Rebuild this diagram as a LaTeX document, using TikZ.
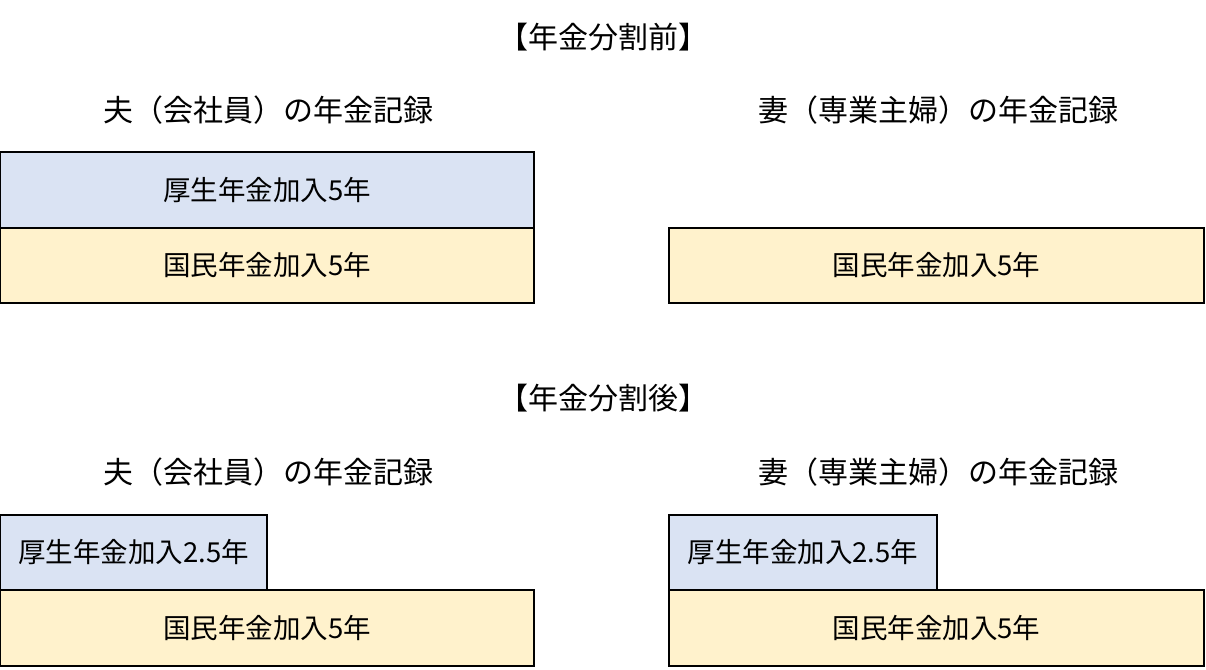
\documentclass[tikz,border=0pt]{standalone}
\usepackage{fontspec}
\setmainfont{Noto Sans CJK JP}
\begin{document}
\begin{tikzpicture}[x=1pt,y=-1pt,
  box/.style={draw=black,line width=2pt,minimum height=75.5pt,inner sep=0pt,font=\fontsize{27.5}{31}\selectfont},
  kosei/.style={box,fill=blueF},
  kokumin/.style={box,fill=yellowF},
  ttl/.style={font=\fontsize{30}{34}\selectfont,inner sep=0pt}]
\definecolor{blueF}{HTML}{DAE3F3}
\definecolor{yellowF}{HTML}{FFF2CC}
\useasboundingbox (0,0) rectangle (1206,669);
% titles
\node[ttl] (t1) at (603,37) {【年金分割前】};
\node[ttl] (t2) at (603,398) {【年金分割後】};
\node[ttl] (h1) at (268,110) {夫（会社員）の年金記録};
\node[ttl] (w1) at (938,110) {妻（専業主婦）の年金記録};
\node[ttl] (h2) at (268,472) {夫（会社員）の年金記録};
\node[ttl] (w2) at (938,472) {妻（専業主婦）の年金記録};
% before
\node[kosei,minimum width=534pt] (hk1) at (267,190) {厚生年金加入5年};
\node[kokumin,minimum width=534pt] (hn1) at (267,265.5) {国民年金加入5年};
\node[kokumin,minimum width=535pt] (wn1) at (936.5,265.5) {国民年金加入5年};
% after
\node[kosei,minimum width=267pt] (hk2) at (133.5,552.5) {厚生年金加入2.5年};
\node[kokumin,minimum width=534pt] (hn2) at (267,628) {国民年金加入5年};
\node[kosei,minimum width=268pt] (wk2) at (803,552.5) {厚生年金加入2.5年};
\node[kokumin,minimum width=535pt] (wn2) at (936.5,628) {国民年金加入5年};
\end{tikzpicture}
\end{document}
